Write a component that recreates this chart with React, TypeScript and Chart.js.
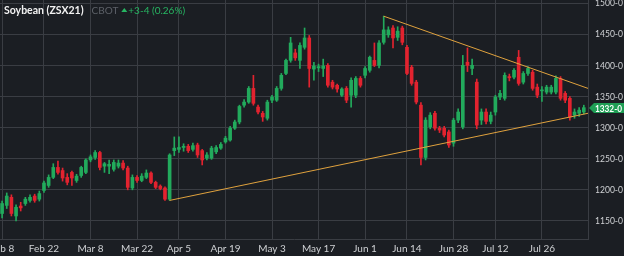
import React, { useEffect, useRef } from "react";
import { Chart, registerables } from "chart.js";

Chart.register(...registerables);

// ---- data ----
const dateTickIndex = [0, 9, 19, 29, 38, 48, 58, 68, 78, 87, 97, 106, 116];
const dateTickLabels = ["Feb 8", "Feb 22", "Mar 8", "Mar 22", "Apr 5", "Apr 19", "May 3", "May 17", "Jun 1", "Jun 14", "Jun 28", "Jul 12", "Jul 26"];
const priceTicks = [1150, 1200, 1250, 1300, 1350, 1400, 1450, 1500];

const opens = [
  1162, 1175, 1188, 1158, 1174, 1178, 1183, 1190, 1185, 1199,
  1207, 1220, 1236, 1231, 1220, 1228, 1215, 1223, 1228, 1248,
  1252, 1260, 1238, 1238, 1233, 1238, 1243, 1235, 1203, 1220,
  1215, 1220, 1227, 1212, 1206, 1203, 1185, 1263, 1265, 1268,
  1270, 1265, 1272, 1263, 1251, 1251, 1261, 1267, 1277, 1280,
  1299, 1309, 1336, 1341, 1363, 1333, 1323, 1315, 1344, 1344,
  1363, 1387, 1408, 1420, 1408, 1429, 1444, 1394, 1396, 1395,
  1400, 1373, 1368, 1352, 1363, 1352, 1352, 1379, 1384, 1392,
  1408, 1400, 1437, 1449, 1460, 1445, 1460, 1429, 1397, 1373,
  1336, 1252, 1301, 1323, 1299, 1299, 1293, 1275, 1312, 1301,
  1405, 1395, 1373, 1312, 1325, 1310, 1325, 1349, 1347, 1382,
  1381, 1413, 1373, 1387, 1389, 1365, 1359, 1357, 1357, 1357,
  1379, 1355, 1347, 1320, 1323, 1325,
];
const highs = [
  1182, 1195, 1192, 1176, 1180, 1188, 1192, 1193, 1198, 1214,
  1224, 1242, 1246, 1235, 1226, 1230, 1225, 1238, 1250, 1256,
  1263, 1262, 1244, 1248, 1248, 1248, 1247, 1238, 1224, 1223,
  1226, 1232, 1229, 1214, 1208, 1205, 1258, 1285, 1285, 1274,
  1273, 1275, 1275, 1265, 1260, 1270, 1271, 1276, 1286, 1302,
  1312, 1336, 1345, 1366, 1384, 1336, 1326, 1344, 1352, 1366,
  1387, 1410, 1445, 1426, 1436, 1460, 1448, 1405, 1402, 1410,
  1403, 1376, 1370, 1364, 1366, 1380, 1382, 1382, 1398, 1415,
  1436, 1440, 1479, 1462, 1464, 1462, 1463, 1432, 1400, 1376,
  1340, 1316, 1324, 1326, 1302, 1302, 1296, 1315, 1330, 1416,
  1428, 1410, 1378, 1330, 1330, 1325, 1352, 1360, 1388, 1386,
  1395, 1424, 1390, 1398, 1392, 1370, 1366, 1368, 1368, 1383,
  1382, 1358, 1350, 1330, 1332, 1336,
];
const lows = [
  1155, 1170, 1158, 1150, 1166, 1175, 1180, 1180, 1182, 1196,
  1204, 1218, 1225, 1214, 1208, 1207, 1212, 1220, 1226, 1245,
  1249, 1232, 1228, 1226, 1230, 1235, 1232, 1200, 1200, 1212,
  1213, 1218, 1210, 1202, 1200, 1183, 1183, 1255, 1260, 1262,
  1260, 1262, 1252, 1240, 1248, 1249, 1258, 1265, 1275, 1278,
  1297, 1306, 1333, 1339, 1336, 1322, 1310, 1312, 1340, 1342,
  1360, 1385, 1405, 1408, 1395, 1426, 1365, 1376, 1390, 1382,
  1365, 1362, 1357, 1350, 1340, 1333, 1348, 1365, 1380, 1389,
  1398, 1396, 1434, 1445, 1428, 1440, 1433, 1385, 1368, 1338,
  1240, 1248, 1298, 1296, 1292, 1285, 1268, 1270, 1308, 1298,
  1390, 1385, 1298, 1305, 1306, 1306, 1320, 1345, 1344, 1375,
  1378, 1368, 1370, 1384, 1360, 1348, 1342, 1354, 1354, 1354,
  1344, 1340, 1312, 1315, 1318, 1322,
];
const closes = [
  1178, 1190, 1162, 1172, 1171, 1185, 1188, 1183, 1194, 1211,
  1220, 1236, 1228, 1219, 1212, 1219, 1222, 1236, 1248, 1253,
  1260, 1236, 1242, 1241, 1244, 1243, 1235, 1204, 1220, 1215,
  1222, 1227, 1212, 1204, 1202, 1185, 1256, 1267, 1268, 1270,
  1263, 1271, 1256, 1248, 1256, 1267, 1268, 1273, 1283, 1299,
  1309, 1334, 1341, 1363, 1339, 1325, 1317, 1341, 1349, 1363,
  1384, 1408, 1436, 1412, 1432, 1444, 1395, 1399, 1398, 1399,
  1368, 1365, 1362, 1362, 1344, 1376, 1379, 1368, 1395, 1413,
  1400, 1436, 1457, 1457, 1444, 1455, 1437, 1387, 1371, 1341,
  1252, 1312, 1320, 1299, 1296, 1288, 1272, 1312, 1325, 1400,
  1400, 1400, 1304, 1325, 1310, 1320, 1349, 1355, 1384, 1380,
  1392, 1371, 1387, 1395, 1363, 1352, 1360, 1365, 1365, 1379,
  1347, 1344, 1317, 1325, 1328, 1332,
];

const lowerTrend = [
  { x: 36, y: 1183 },
  { x: 125.9, y: 1323 },
];
const upperTrend = [
  { x: 82, y: 1479 },
  { x: 125.9, y: 1363 },
];

const lastPrice = 1332;
const titleName = "Soybean (ZSX21)";
const titleExchange = "CBOT";
const titleChange = "+3-4 (0.26%)";

// ---- styles ----
const BG = "#1b1e23";
const GRID = "#3a3d43";
const UP = "#22aa5c";
const DOWN = "#e2232f";
const TREND = "#e0a23e";
const AXIS_TEXT = "#cfd1d4";

const fmtPrice = (p: number) => `${p}-0`;

const overlayPlugin = {
  id: "overlay",
  afterDraw(chart: any) {
    const { ctx, chartArea } = chart;
    const xs = chart.scales.x;
    const ys = chart.scales.y;
    ctx.save();
    // date labels
    ctx.font = "10px Lato";
    ctx.fillStyle = AXIS_TEXT;
    ctx.textAlign = "center";
    ctx.textBaseline = "middle";
    dateTickIndex.forEach((v, k) => {
      ctx.fillText(dateTickLabels[k], xs.getPixelForValue(v), 249);
    });
    // price labels
    ctx.textAlign = "left";
    priceTicks.forEach((p) => {
      ctx.fillText(fmtPrice(p), chartArea.right + 7, ys.getPixelForValue(p), 28);
    });
    // last price tag
    const py = Math.round(ys.getPixelForValue(lastPrice));
    const r = chartArea.right;
    ctx.fillStyle = "#1f9e55";
    ctx.beginPath();
    ctx.moveTo(r + 1, py);
    ctx.lineTo(r + 6, py - 5);
    ctx.lineTo(624, py - 5);
    ctx.lineTo(624, py + 5);
    ctx.lineTo(r + 6, py + 5);
    ctx.closePath();
    ctx.fill();
    ctx.fillStyle = "#ffffff";
    ctx.font = "bold 9.5px Lato";
    ctx.fillText(fmtPrice(lastPrice), r + 7, py + 0.5, 27);
    // title
    ctx.textBaseline = "alphabetic";
    ctx.font = "bold 10.5px Lato";
    ctx.fillStyle = "#f2f2f2";
    ctx.fillText(titleName, 4, 14);
    const w1 = ctx.measureText(titleName).width;
    ctx.font = "10px Lato";
    ctx.fillStyle = "#5d6168";
    ctx.fillText(titleExchange, 4 + w1 + 8, 14);
    const w2 = ctx.measureText(titleExchange).width;
    const cx = 4 + w1 + 8 + w2 + 6;
    ctx.fillStyle = "#27b562";
    ctx.beginPath();
    ctx.moveTo(cx, 8);
    ctx.lineTo(cx + 3, 12);
    ctx.lineTo(cx - 3, 12);
    ctx.closePath();
    ctx.fill();
    ctx.fillText(titleChange, cx + 4, 14);
    ctx.restore();
  },
};

export default function App() {
  const ref = useRef<HTMLCanvasElement | null>(null);

  useEffect(() => {
    if (!ref.current) return;
    const colors = opens.map((o, i) => (closes[i] >= o ? UP : DOWN));
    const wicks = opens.map((_, i) => ({ x: i, y: [lows[i], highs[i]] }));
    const bodies = opens.map((o, i) => ({ x: i, y: [o, closes[i]] }));

    const chart = new Chart(ref.current, {
      type: "bar",
      data: {
        datasets: [
          {
            type: "line",
            data: lowerTrend,
            borderColor: TREND,
            borderWidth: 1,
            pointRadius: 0,
            order: 0,
          } as any,
          {
            type: "line",
            data: upperTrend,
            borderColor: TREND,
            borderWidth: 1,
            pointRadius: 0,
            order: 0,
          } as any,
          {
            type: "bar",
            data: wicks,
            backgroundColor: colors,
            barThickness: 1,
            grouped: false,
            order: 2,
          } as any,
          {
            type: "bar",
            data: bodies,
            backgroundColor: colors,
            barThickness: 3,
            minBarLength: 1,
            grouped: false,
            order: 1,
          } as any,
        ],
      },
      options: {
        responsive: false,
        animation: false,
        layout: { padding: 0, autoPadding: false },
        plugins: {
          legend: { display: false },
          tooltip: { enabled: false },
        },
        scales: {
          x: {
            type: "linear",
            position: "bottom",
            offset: false,
            min: -0.45,
            max: 125.9,
            afterBuildTicks: (s: any) => {
              s.ticks = dateTickIndex.map((v) => ({ value: v }));
            },
            afterFit: (s: any) => {
              s.height = 17;
            },
            ticks: { display: false },
            grid: { color: GRID, drawTicks: false, offset: false },
            border: { color: GRID },
          },
          y: {
            type: "linear",
            position: "right",
            min: 1121,
            max: 1505,
            afterBuildTicks: (s: any) => {
              s.ticks = priceTicks.map((v) => ({ value: v }));
            },
            afterFit: (s: any) => {
              s.width = 36;
            },
            ticks: { display: false },
            grid: { color: GRID, drawTicks: false },
            border: { color: GRID },
          },
        },
      } as any,
      plugins: [overlayPlugin],
    });
    return () => chart.destroy();
  }, []);

  return (
    <div
      style={{
        position: "fixed",
        left: 0,
        top: 0,
        width: 624,
        height: 256,
        background: BG,
      }}
    >
      <canvas ref={ref} width={624} height={256} style={{ display: "block" }} />
    </div>
  );
}
